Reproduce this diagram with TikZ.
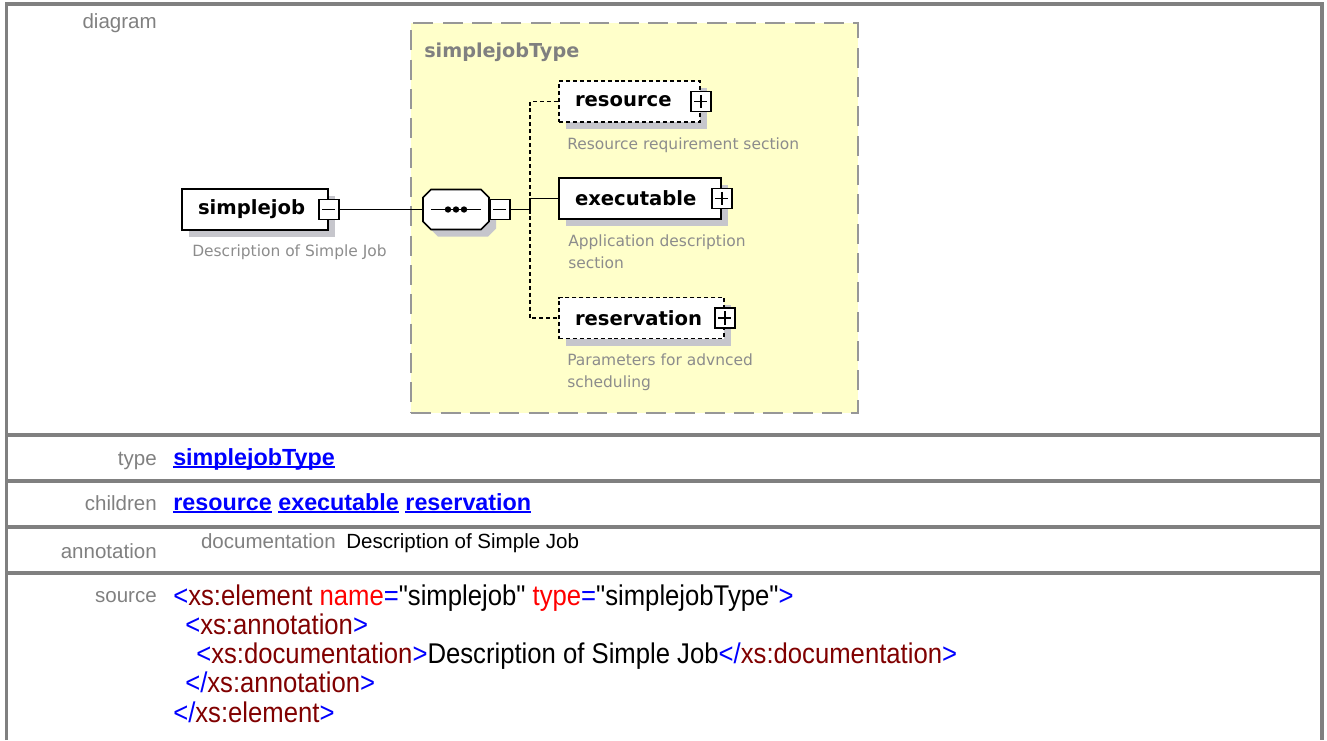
\documentclass[tikz,border=0pt]{standalone}
\usepackage{fontspec}
\setmainfont{Liberation Sans}
\newfontfamily\diafont{DejaVu Sans}
\newfontfamily\codefont[FakeStretch=0.9]{Liberation Sans}
\usetikzlibrary{shadows}

\definecolor{framegray}{HTML}{808080}
\definecolor{labelgray}{HTML}{808080}
\definecolor{typeyellow}{HTML}{FFFFCA}
\definecolor{typeborder}{HTML}{979797}
\definecolor{shadowgray}{HTML}{C6C6CC}
\definecolor{descgray}{HTML}{8C8C8C}
\definecolor{linkblue}{HTML}{0000FF}
\definecolor{tagblue}{HTML}{0000FF}
\definecolor{tagname}{HTML}{800000}
\definecolor{attrname}{HTML}{FF0000}

\newcommand\lblfont{\fontsize{15.4pt}{18pt}\selectfont}
\newcommand\linkfont{\bfseries\fontsize{17.5pt}{20pt}\selectfont}
\newcommand\elemfont{\diafont\bfseries\fontsize{14.7pt}{17pt}\selectfont}
\newcommand\titlefont{\diafont\bfseries\fontsize{14.4pt}{17pt}\selectfont}
\newcommand\descfont{\diafont\fontsize{11.6pt}{16pt}\selectfont}
\newcommand\srcfont{\codefont\fontsize{21.4pt}{24pt}\selectfont}
\newcommand\lnk[1]{\setbox0\hbox{#1}\rlap{\rule[-2.4pt]{\wd0}{1.4pt}}\box0\relax}
\newcommand\xmlp[1]{\textcolor{tagblue}{#1}}
\newcommand\xmln[1]{\textcolor{tagname}{#1}}
\newcommand\xmla[1]{\textcolor{attrname}{#1}}
% octagon of the sequence compositor, centred at (#1,#2)
\newcommand\seqoutline[2]{(#1-25,#2-20) -- (#1+25,#2-20) -- (#1+33,#2-12) -- (#1+33,#2+12)
  -- (#1+25,#2+20) -- (#1-25,#2+20) -- (#1-33,#2+12) -- (#1-33,#2-12) -- cycle}

\begin{document}
\begin{tikzpicture}[x=0.75pt,y=-0.75pt]

    \tikzset{
      lbl/.style={anchor=base east, inner sep=0pt, text=labelgray, font=\lblfont},
      link/.style={anchor=base west, inner sep=0pt, text=linkblue, font=\linkfont},
      srcline/.style={anchor=base west, inner sep=0pt, font=\srcfont},
      frame/.style={draw=framegray, line width=2.3pt},
      typebox/.style={draw=typeborder, fill=typeyellow, line width=1.5pt,
        dash pattern=on 15pt off 7pt, minimum width=335pt, minimum height=292.5pt, inner sep=0pt},
      elem/.style={draw, fill=white, line width=1.3pt, minimum height=30.75pt,
        text width=#1, align=left, inner xsep=12pt, font=\elemfont,
        general shadow={fill=shadowgray, shadow xshift=5.5pt, shadow yshift=-5.5pt}},
      optelem/.style={elem=#1, dash pattern=on 3pt off 2.2pt},
      btnbox/.style={draw, fill=white, line width=1pt, minimum size=15pt, inner sep=0pt},
      plusbtn/.style={btnbox, path picture={
        \draw[line width=1pt] ([xshift=2.6pt]path picture bounding box.west) -- ([xshift=-2.6pt]path picture bounding box.east)
          ([yshift=-2.6pt]path picture bounding box.north) -- ([yshift=2.6pt]path picture bounding box.south);}},
      minusbtn/.style={btnbox, path picture={
        \draw[line width=1pt] ([xshift=2.6pt]path picture bounding box.west) -- ([xshift=-2.6pt]path picture bounding box.east);}},
      seqbox/.style={minimum width=49.5pt, minimum height=30pt, inner sep=0pt},
      desc/.style={anchor=base west, inner sep=0pt, text=descgray, font=\descfont, align=left},
      wire/.style={line width=1.3pt},
      optwire/.style={wire, dash pattern=on 3pt off 2.2pt},
    }
    \useasboundingbox (0,0) rectangle (1327,740);

    % diagram
    \node[typebox] (typebox) at (634.5,218) {};
    \node[anchor=base west, inner sep=0pt, text=labelgray, font=\titlefont] (typename) at (424,57) {simplejobType};

    \node[elem=85.5pt] (simplejob) at (255,209.5) {simplejob};
    \node[minusbtn] (sjbtn) at (simplejob.east) {};
    \node[desc] (sjdesc) at (192,256) {Description of Simple Job};

    \fill[shadowgray] \seqoutline{463}{216.5};
    \draw[wire, fill=white] \seqoutline{456}{209.5};
    \draw[wire] (431,209.5) -- (481,209.5);
    \foreach \dx in {-8,0,8}
      \fill (456+\dx,209.5) circle (2.4pt);
    \node[seqbox] (seq) at (456,209.5) {};
    \node[minusbtn, anchor=west] (seqbtn) at (seq.east) {};
    \coordinate (fork) at (530,209.5);

    \node[optelem=81.75pt] (resource) at (629.5,101.5) {resource};
    \node[plusbtn] (resbtn) at (resource.east) {};
    \node[desc] (resdesc) at (567,149) {Resource requirement section};

    \node[elem=97.5pt] (executable) at (640,198.5) {executable};
    \node[plusbtn] (exebtn) at (executable.east) {};
    \node[desc] (exedesc) at (568,268) {Application description\\section};

    \node[optelem=99.75pt] (reservation) at (641.5,318) {reservation};
    \node[plusbtn] (rsvbtn) at (reservation.east) {};
    \node[desc] (rsvdesc) at (567,387) {Parameters for advnced\\scheduling};

    \draw[wire] (sjbtn.east) -- (seq.west);
    \draw[wire] (seqbtn.east) -- (fork);
    \draw[wire] (fork) |- (executable.west);
    \draw[optwire] (fork) |- (resource.west);
    \draw[optwire] (fork) |- (reservation.west);

    % table
    \draw[frame] (6.5,740) -- (6.5,4) -- (1322,4) -- (1322,740);
    \foreach \y in {435,481,527,573}
      \draw[frame] (6.5,\y) -- (1322,\y);

    \node[lbl] (lbldiagram) at (157,28) {diagram};
    \node[lbl] (lbltype) at (157,465) {type};
    \node[lbl] (lblchildren) at (157,510) {children};
    \node[lbl] (lblannotation) at (157,558) {annotation};
    \node[lbl] (lblsource) at (157,602) {source};

    \node[link] (typelink) at (173,465) {\lnk{simplejobType}};
    \node[link] (childlinks) at (173,510) {\lnk{resource} \lnk{executable} \lnk{reservation}};
    \node[lbl] (lbldoc) at (336,548) {documentation};
    \node[anchor=base west, inner sep=0pt, font=\lblfont] (doctext) at (346,548) {Description of Simple Job};

    \node[srcline] (src1) at (173,605) {\xmlp{<}\xmln{xs:element} \xmla{name}\xmlp{=}"simplejob" \xmla{type}\xmlp{=}"simplejobType"\xmlp{>}};
    \node[srcline] (src2) at (185,634) {\xmlp{<}\xmln{xs:annotation}\xmlp{>}};
    \node[srcline] (src3) at (196,663) {\xmlp{<}\xmln{xs:documentation}\xmlp{>}Description of Simple Job\xmlp{</}\xmln{xs:documentation}\xmlp{>}};
    \node[srcline] (src4) at (185,692) {\xmlp{</}\xmln{xs:annotation}\xmlp{>}};
    \node[srcline] (src5) at (173,722) {\xmlp{</}\xmln{xs:element}\xmlp{>}};

\end{tikzpicture}
\end{document}
